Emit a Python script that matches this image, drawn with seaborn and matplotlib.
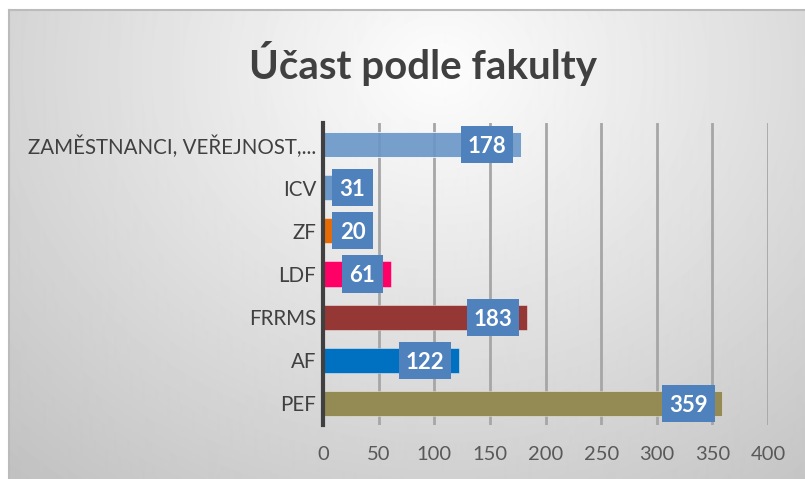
import numpy as np
import matplotlib
matplotlib.use('Agg')
import matplotlib.pyplot as plt
from matplotlib.patches import Rectangle
import seaborn as sns

# Data
fakulty = ['ZAMĚSTNANCI, VEŘEJNOST,...', 'ICV', 'ZF', 'LDF', 'FRRMS', 'AF', 'PEF']
ucast = [178, 31, 20, 61, 183, 122, 359]
barvy = ['#6A96C8', '#6A96C8', '#E36C09', '#FF0066', '#953735', '#0070C0', '#948A54']
x_ticks = [0, 50, 100, 150, 200, 250, 300, 350, 400]

sns.set_theme(style='white')
plt.rcParams['font.family'] = ['Lato', 'DejaVu Sans']

W, H = 805, 479
fig = plt.figure(figsize=(W / 100, H / 100), dpi=100, facecolor='white')

# pozadi s prechodem
bg = fig.add_axes([9 / W, 0, (W - 9) / W, (H - 10) / H])
yy, xx = np.mgrid[0:H - 10, 0:W - 9]
cx, cy = 430, 60
dist = np.sqrt((xx - cx) ** 2 + ((yy - cy) / 0.85) ** 2)
shade = 253 - dist / dist.max() * 60
bg.imshow(shade, cmap='gray', vmin=0, vmax=255, aspect='auto', interpolation='bilinear')
bg.set_xticks([])
bg.set_yticks([])
for s in bg.spines.values():
    s.set_color('#BBBBBB')
    s.set_linewidth(1.5)
bg.spines['right'].set_visible(False)
bg.spines['bottom'].set_visible(False)

ax = fig.add_axes([323 / W, 1 - 425 / H, (768 - 323) / W, (425 - 123) / H])
ax.patch.set_alpha(0)
sns.barplot(x=ucast, y=fakulty, hue=fakulty, palette=barvy, legend=False,
            orient='h', width=0.58, ax=ax, saturation=1, zorder=3,
            edgecolor=(1, 1, 1, 0.5), linewidth=0.6)
ax.patches[0].set_alpha(0.9)

ax.set_xlim(0, 400)
ax.set_ylim(6.5, -0.5)
ax.set_xticks(x_ticks)
ax.grid(axis='x', color='#A6A6A6', linewidth=2, zorder=1)
ax.grid(axis='y', visible=False)
for s in ['top', 'right', 'bottom']:
    ax.spines[s].set_visible(False)
ax.spines['left'].set_color('#404040')
ax.spines['left'].set_linewidth(3)
ax.spines['left'].set_zorder(5)
ax.tick_params(axis='x', length=0, pad=15, labelsize=14.5, labelcolor='#595959')
ax.tick_params(axis='y', length=0, pad=5, labelsize=14.8, labelcolor='#404040')
ax.set_xlabel('')
ax.set_ylabel('')

# popisky hodnot
box_h = 0.86
for i, v in enumerate(ucast):
    w = 37 if v < 100 else 47
    xc = max(v - 7 - w / 2, 8 + w / 2)
    ax.add_patch(Rectangle((xc - w / 2, i - box_h / 2), w, box_h,
                           fc='#4F81BD', ec='none', zorder=6))
    ax.text(xc, i, str(v), ha='center', va='center_baseline', color='white',
            fontsize=16, fontweight='bold', zorder=7)

fig.text(423 / W, 1 - 63 / H, 'Účast podle fakulty', ha='center', va='center',
         fontsize=29, fontweight='bold', color='#404040')

fig.savefig('out.png', dpi=100, facecolor='white')
